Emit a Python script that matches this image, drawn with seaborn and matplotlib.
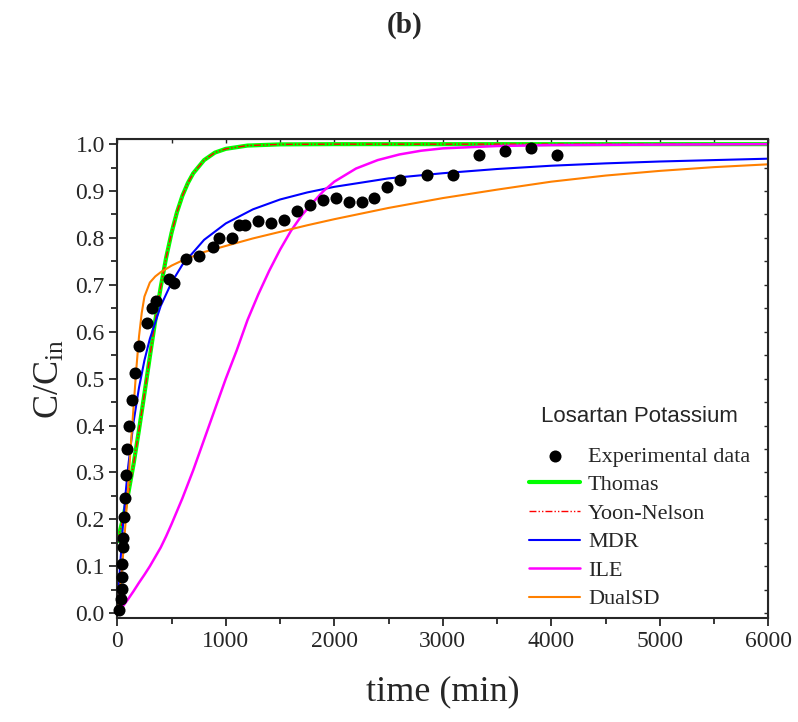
import numpy as np
import pandas as pd
import matplotlib
matplotlib.use("Agg")
import matplotlib.pyplot as plt
from matplotlib.ticker import MultipleLocator
import seaborn as sns

# experimental breakthrough points
exp_t = [20, 35, 40, 43, 46, 52, 56, 62, 67, 77, 92, 108, 135, 166, 203, 273, 319, 359,
         473, 519, 636, 756, 878, 934, 1057, 1118, 1173, 1296, 1412, 1532, 1655, 1772,
         1895, 2011, 2134, 2254, 2370, 2490, 2608, 2854, 3093, 3336, 3573, 3813, 4052]
exp_c = [0.007, 0.030, 0.052, 0.077, 0.104, 0.140, 0.161, 0.205, 0.245, 0.294, 0.350,
         0.398, 0.454, 0.512, 0.570, 0.618, 0.651, 0.665, 0.712, 0.703, 0.756, 0.761,
         0.781, 0.799, 0.799, 0.827, 0.827, 0.836, 0.832, 0.838, 0.857, 0.871, 0.881,
         0.886, 0.876, 0.876, 0.886, 0.909, 0.923, 0.934, 0.934, 0.977, 0.986, 0.991, 0.977]

# model curves
thomas_t = [0, 50, 100, 150, 200, 250, 300, 350, 400, 450, 500, 550, 600, 650, 700,
            800, 900, 1000, 1200, 1500, 2000, 3000, 4000, 5000, 6000]
thomas_c = [0.153, 0.199, 0.254, 0.318, 0.391, 0.468, 0.547, 0.624, 0.695, 0.758, 0.811,
            0.855, 0.890, 0.917, 0.938, 0.966, 0.982, 0.990, 0.997, 0.9995, 1.0, 1.0,
            1.0, 1.0, 1.0]
yoon_t = [0, 50, 100, 150, 200, 250, 300, 350, 400, 450, 500, 550, 600, 650, 700,
          800, 900, 1000, 1200, 1500, 2000, 3000, 4000, 5000, 6000]
yoon_c = [0.153, 0.199, 0.254, 0.318, 0.391, 0.468, 0.547, 0.624, 0.695, 0.758, 0.811,
          0.855, 0.890, 0.917, 0.938, 0.966, 0.982, 0.990, 0.997, 0.9995, 1.0, 1.0,
          1.0, 1.0, 1.0]
mdr_t = [0, 25, 50, 75, 100, 150, 200, 250, 300, 400, 500, 600, 800, 1000, 1250, 1500,
         1750, 2000, 2500, 3000, 3500, 4000, 4500, 5000, 5500, 6000]
mdr_c = [0.0, 0.098, 0.181, 0.252, 0.312, 0.408, 0.481, 0.539, 0.585, 0.655, 0.705,
         0.743, 0.796, 0.831, 0.861, 0.882, 0.897, 0.909, 0.927, 0.938, 0.947, 0.954,
         0.959, 0.963, 0.966, 0.969]
ile_t = [0, 50, 100, 150, 200, 250, 300, 350, 400, 450, 500, 600, 700, 800, 900, 1000,
         1100, 1200, 1300, 1400, 1500, 1600, 1700, 1800, 1900, 2000, 2200, 2400, 2600,
         2800, 3000, 3500, 4000, 5000, 6000]
ile_c = [0.0, 0.014, 0.030, 0.047, 0.065, 0.082, 0.100, 0.120, 0.140, 0.164, 0.190,
         0.245, 0.305, 0.370, 0.435, 0.500, 0.560, 0.625, 0.680, 0.730, 0.775, 0.815,
         0.848, 0.875, 0.900, 0.920, 0.948, 0.966, 0.978, 0.986, 0.991, 0.996, 0.998,
         0.999, 1.0]
dual_t = [0, 25, 50, 75, 100, 125, 150, 175, 200, 225, 250, 300, 350, 400, 500, 600,
          800, 1000, 1250, 1500, 1750, 2000, 2500, 3000, 3500, 4000, 4500, 5000, 5500, 6000]
dual_c = [0.0, 0.050, 0.115, 0.190, 0.270, 0.360, 0.440, 0.520, 0.590, 0.640, 0.675,
          0.705, 0.718, 0.727, 0.741, 0.752, 0.770, 0.783, 0.799, 0.813, 0.827, 0.840,
          0.864, 0.885, 0.903, 0.920, 0.933, 0.943, 0.951, 0.957]

sns.set_style("ticks")
plt.rcParams["font.family"] = ["Liberation Serif", "DejaVu Serif"]
plt.rcParams["mathtext.fontset"] = "custom"
plt.rcParams["mathtext.rm"] = "Liberation Serif"
plt.rcParams["mathtext.it"] = "Liberation Serif:italic"

fig = plt.figure(figsize=(7.98, 7.22), dpi=100)
ax = fig.add_axes([0.147, 0.1436, 0.8158, 0.6639])

sns.lineplot(x=thomas_t, y=thomas_c, color="#00ff00", lw=3.0, label="Thomas", ax=ax)
sns.lineplot(x=yoon_t, y=yoon_c, color="#ff0000", lw=1.0,
             linestyle=(0, (5, 1.5, 1, 1.5, 1, 1.5)), label="Yoon-Nelson", ax=ax)
sns.lineplot(x=mdr_t, y=mdr_c, color="#0000ff", lw=1.5, label="MDR", ax=ax)
sns.lineplot(x=ile_t, y=ile_c, color="#ff00ff", lw=1.8, label="ILE", ax=ax)
sns.lineplot(x=dual_t, y=dual_c, color="#ff8000", lw=1.5, label="DualSD", ax=ax)
sns.scatterplot(x=exp_t, y=exp_c, color="black", s=75, edgecolor="black", linewidth=0,
                label="Experimental data", clip_on=False, zorder=5, ax=ax)

ax.set_xlim(0, 6000)
ax.set_ylim(-0.011, 1.011)
ax.xaxis.set_major_locator(MultipleLocator(1000))
ax.xaxis.set_minor_locator(MultipleLocator(500))
ax.yaxis.set_major_locator(MultipleLocator(0.1))
ax.yaxis.set_minor_locator(MultipleLocator(0.05))
ax.yaxis.set_major_formatter(matplotlib.ticker.FormatStrFormatter("%.1f"))
ax.tick_params(which="major", direction="out", length=6, width=1.3, labelsize=17, pad=3)
ax.tick_params(which="minor", direction="out", length=4, width=1.3)
for sp in ax.spines.values():
    sp.set_linewidth(1.5)

top = ax.secondary_xaxis("top")
top.xaxis.set_major_locator(MultipleLocator(500))
top.tick_params(direction="in", length=3, width=1.0, labeltop=False)
right = ax.secondary_yaxis("right")
right.yaxis.set_major_locator(MultipleLocator(0.05))
right.tick_params(direction="in", length=3, width=1.0, labelright=False)

ax.set_xlabel("time (min)", fontsize=26, labelpad=17)
ax.set_ylabel(r"C/C$_{\mathrm{in}}$", fontsize=26, labelpad=6)

handles, labels = ax.get_legend_handles_labels()
order = ["Experimental data", "Thomas", "Yoon-Nelson", "MDR", "ILE", "DualSD"]
hmap = dict(zip(labels, handles))
leg = ax.legend([hmap[k] for k in order], order, loc="lower right",
                bbox_to_anchor=(0.986, 0.0), frameon=False, fontsize=16,
                title="Losartan Potassium", handlelength=2.3, handletextpad=0.35,
                labelspacing=0.36, borderaxespad=0.0,
                title_fontproperties={"family": "Liberation Sans", "size": 16})
leg._legend_box.sep = 14

fig.text(0.507, 0.965, "(b)", ha="center", va="center", fontsize=21, fontweight="bold")

fig.savefig("out.png", dpi=100)
